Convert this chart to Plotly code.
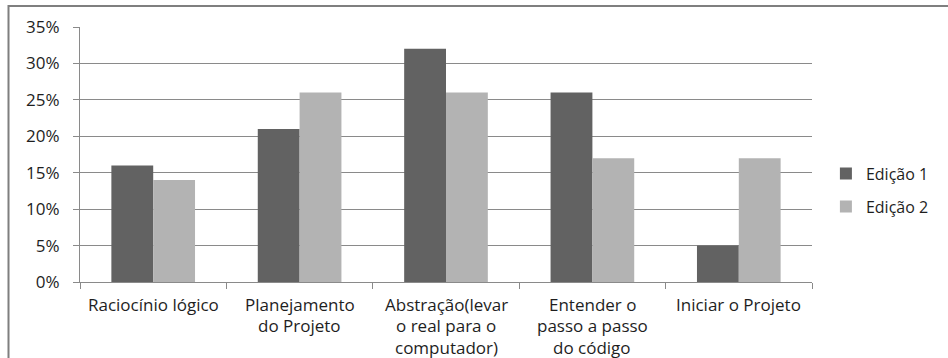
import plotly.graph_objects as go

categories = ["Raciocínio lógico", "Planejamento<br>do Projeto",
              "Abstração(levar<br>o real para o<br>computador)",
              "Entender o<br>passo a passo<br>do código", "Iniciar o Projeto"]
edicao1 = [0.16, 0.21, 0.32, 0.26, 0.05]
edicao2 = [0.14, 0.26, 0.26, 0.17, 0.17]
y_ticks = [0, 0.05, 0.10, 0.15, 0.20, 0.25, 0.30, 0.35]

FONT = "Open Sans"
FS = 17
TXT = "#1e1e1e"
AXC = "#8a8a8a"

fig = go.Figure()
fig.add_trace(go.Bar(name="Edição 1", x=categories, y=edicao1,
                     marker=dict(color="#626262", line=dict(width=0)),
                     legendgroup="a"))
fig.add_trace(go.Bar(name="Edição 2", x=categories, y=edicao2,
                     marker=dict(color="#b3b3b3", line=dict(width=0)),
                     legendgroup="b"))

# category labels drawn line by line to mimic the wider line spacing
annotations = []
for cat in categories:
    for i, line in enumerate(cat.split("<br>")):
        annotations.append(dict(
            x=cat, xref="x", y=0, yref="paper", text=line,
            showarrow=False, xanchor="center", yanchor="middle",
            yshift=-(22 + i * 21.5),
            font=dict(family=FONT, size=FS, color=TXT)))

fig.update_layout(
    width=948, height=358,
    margin=dict(l=80, r=136, t=27, b=76),
    paper_bgcolor="white", plot_bgcolor="white",
    barmode="group", bargap=0.4286, bargroupgap=0,
    font=dict(family=FONT, size=FS, color=TXT),
    showlegend=True,
    legend=dict(x=1.019, y=0.36, xanchor="left", yanchor="middle",
                traceorder="grouped", tracegroupgap=9,
                font=dict(family=FONT, size=16, color=TXT),
                itemwidth=30),
    xaxis=dict(type="category", showgrid=False, showline=True,
               linecolor=AXC, linewidth=1,
               ticks="outside", ticklen=6, tickcolor=AXC,
               tickson="boundaries", showticklabels=False),
    yaxis=dict(range=[0, 0.35], tickvals=y_ticks, tickformat=".0%",
               showgrid=True, gridcolor=AXC, gridwidth=1,
               showline=True, linecolor=AXC, linewidth=1,
               ticks="outside", ticklen=6, tickcolor=AXC,
               zeroline=False, ticklabelstandoff=10,
               tickfont=dict(family=FONT, size=FS, color=TXT)),
    annotations=annotations,
    shapes=[
        dict(type="rect", xref="paper", yref="paper",
             x0=(8.5 - 80) / 732, x1=(952 - 80) / 732,
             y0=(282 - 362) / 255, y1=(282 - 6) / 255,
             line=dict(color="#7f7f7f", width=2), layer="below"),
    ],
)

fig.write_html("out.html")
